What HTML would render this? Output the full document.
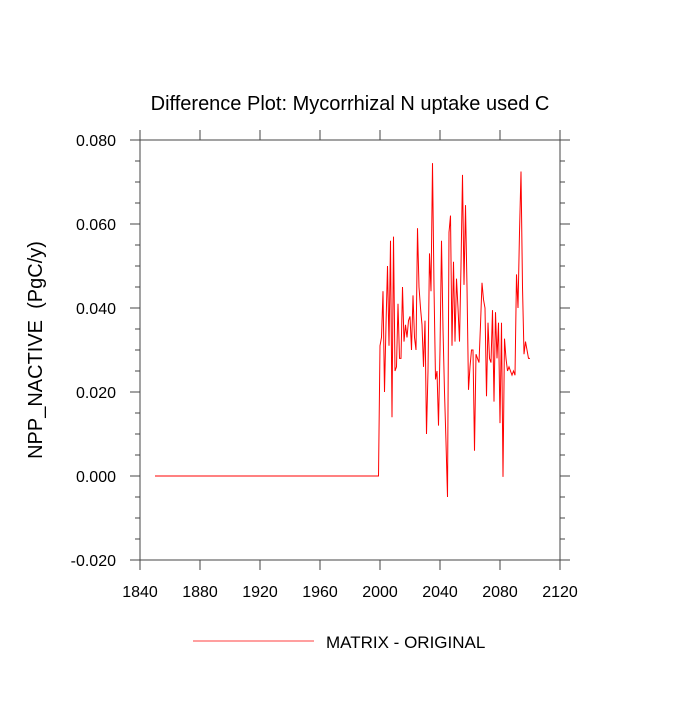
<!DOCTYPE html>
<html><head><meta charset="utf-8"><style>
body{margin:0;background:#fff}
svg text{font-family:"Liberation Sans",sans-serif;fill:#000}
</style></head><body>
<svg id="chart" width="700" height="700" viewBox="0 0 700 700">
<text x="350" y="110" font-size="20" text-anchor="middle">Difference Plot: Mycorrhizal N uptake used C</text>
<text transform="translate(42,350) rotate(-90)" font-size="20" text-anchor="middle" style="white-space:pre">NPP_NACTIVE  (PgC/y)</text>
<rect x="140" y="140" width="420" height="420" fill="none" stroke="#444" stroke-width="1"/>
<g id="axes"></g>
<polyline id="series" fill="none" stroke="#f00" stroke-width="1"/>
<line x1="193" y1="641" x2="314" y2="641" stroke="#f66" stroke-width="1.2"/>
<text x="326" y="648" font-size="17">MATRIX - ORIGINAL</text>
</svg>
<script>
const xTicks=[1840,1880,1920,1960,2000,2040,2080,2120];
const yTicks=[-0.02,0,0.02,0.04,0.06,0.08];
const yTickLabels=["-0.020","0.000","0.020","0.040","0.060","0.080"];
const startYear=1850;
const zeroYears=150;
const values2000=[0.031,0.033,0.044,0.020,0.036,0.050,0.031,0.056,0.014,0.057,0.025,0.026,0.041,0.028,0.028,0.045,0.032,0.036,0.033,0.037,0.038,0.030,0.043,0.033,0.030,0.059,0.045,0.040,0.036,0.026,0.037,0.010,0.025,0.053,0.044,0.0745,
0.045,0.023,0.025,0.012,0.030,0.056,0.035,0.020,0.008,-0.005,
0.058,0.062,0.031,0.051,0.032,0.047,0.040,0.032,0.050,0.0717,0.0455,0.0645,0.045,0.0205,0.026,0.030,0.030,0.006,0.029,0.028,0.027,0.036,
0.046,0.042,0.040,0.019,0.0365,0.028,0.027,0.0395,0.0177,0.039,0.028,0.0365,0.0126,0.0365,-0.0002,0.0327,
0.028,0.025,0.026,0.025,0.024,0.025,0.024,0.048,0.040,0.058,0.0725,0.045,0.029,0.032,0.030,0.028,0.028];
const X=v=>140+(v-1840)*420/280;
const Y=v=>140+(0.08-v)*420/0.1;
const ns="http://www.w3.org/2000/svg";
const g=document.getElementById('axes');
function line(x1,y1,x2,y2,name){const l=document.createElementNS(ns,'line');l.setAttribute('x1',x1);l.setAttribute('y1',y1);l.setAttribute('x2',x2);l.setAttribute('y2',y2);l.setAttribute('stroke','#444');


g.appendChild(l);}
function text(x,y,s,anchor,name){const t=document.createElementNS(ns,'text');t.setAttribute('x',x);t.setAttribute('y',y);t.setAttribute('font-size','16');t.setAttribute('text-anchor',anchor);t.textContent=s;


g.appendChild(t);}
xTicks.forEach(v=>{const x=X(v);line(x,560,x,570,'x-tick');line(x,140,x,130,'x-tick-top');text(x,597,String(v),'middle','x-tick-label');});
yTicks.forEach((v,i)=>{const y=Y(v);line(140,y,130,y,'y-tick');line(560,y,570,y,'y-tick-right');text(116,y+6,yTickLabels[i],'end','y-tick-label');});
for(let k=-15;k<80;k+=5){if(k%20===0)continue;const y=Y(k/1000);line(140,y,135,y,'y-minor-tick');line(560,y,565,y,'y-minor-tick-right');}
const pts=[];
for(let i=0;i<zeroYears;i++)pts.push(X(startYear+i)+','+Y(0));
values2000.forEach((v,i)=>pts.push(X(2000+i)+','+Y(v)));
document.getElementById('series').setAttribute('points',pts.join(' '));
</script>
</body></html>
